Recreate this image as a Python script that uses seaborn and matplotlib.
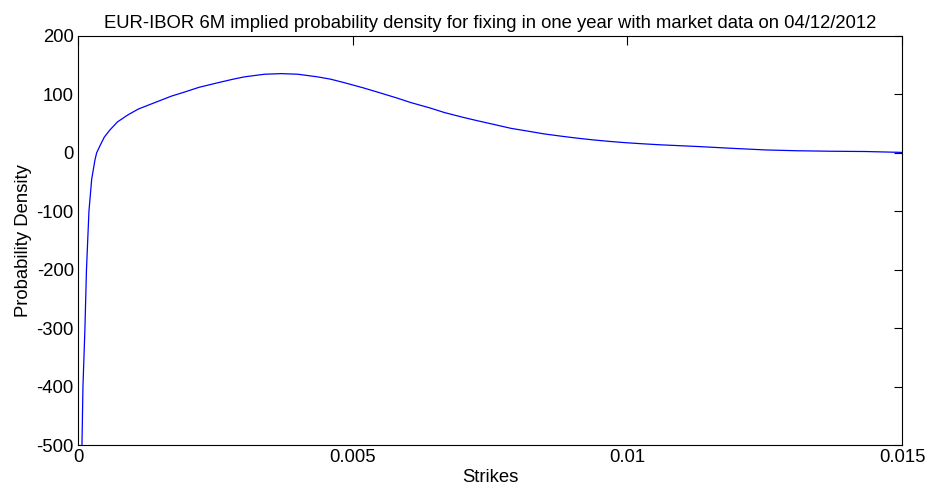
import matplotlib
matplotlib.use("Agg")
import matplotlib.pyplot as plt
import seaborn as sns
import pandas as pd

# Strike levels and the implied density along the curve
strikes = [0.00005, 0.000073, 0.000091, 0.000127, 0.000155, 0.000200, 0.00025,
           0.00031, 0.00034, 0.00040, 0.00048, 0.00058, 0.00072, 0.00091,
           0.0011, 0.0014, 0.0017, 0.00194, 0.0022, 0.00255, 0.0028, 0.00303,
           0.0034, 0.0037, 0.0040, 0.00436, 0.0046, 0.00485, 0.0052, 0.00545,
           0.0058, 0.00606, 0.0064, 0.00667, 0.0070, 0.00727, 0.0076, 0.00788,
           0.0082, 0.00848, 0.0088, 0.0091, 0.0094, 0.0097, 0.0100, 0.0103,
           0.0106, 0.0109, 0.0113, 0.0119, 0.01252, 0.0131, 0.0137, 0.01434,
           0.0150]
density = [-620, -500, -400, -300, -200, -100, -45,
           -12, 0, 12, 27, 39, 53, 65,
           75, 86, 97, 104, 112, 120, 125.5, 130,
           134.5, 135.5, 134.5, 130, 126, 120, 111, 104,
           94, 86, 77, 69, 61, 55, 48, 42,
           37, 32.5, 28.5, 25, 22, 19.4, 17.2, 15.4,
           13.8, 12.5, 10.8, 7.8, 5, 3.6, 2.8, 2.3,
           0.8]

x_ticks = [0, 0.005, 0.01, 0.015]
x_tick_labels = ["0", "0.005", "0.01", "0.015"]
y_ticks = [-500, -400, -300, -200, -100, 0, 100, 200]

title = "EUR-IBOR 6M implied probability density for fixing in one year with market data on 04/12/2012"

sns.set_style("white")
plt.rcParams["font.family"] = ["Liberation Sans", "DejaVu Sans"]
plt.rcParams["axes.unicode_minus"] = False
plt.rcParams["text.color"] = "black"
plt.rcParams["axes.labelcolor"] = "black"

FS = 13.3

df = pd.DataFrame({"Strikes": strikes, "Probability Density": density})

fig = plt.figure(figsize=(9.28, 4.92), dpi=100)
ax = fig.add_axes([0.084, 0.095, 0.888, 0.832])

sns.lineplot(data=df, x="Strikes", y="Probability Density", ax=ax,
             color="#0000ff", linewidth=0.9, sort=False)

ax.set_xlim(0, 0.015)
ax.set_ylim(-500, 200)
ax.set_xticks(x_ticks)
ax.set_xticklabels(x_tick_labels)
ax.set_yticks(y_ticks)

ax.tick_params(axis="x", direction="in", length=6.5, width=0.8, top=True,
               labelsize=FS, colors="black", pad=3)
ax.tick_params(axis="y", direction="in", length=5.8, width=0.8, right=True,
               labelsize=FS, colors="black", pad=3)
for side in ["left", "right", "top", "bottom"]:
    ax.spines[side].set_visible(True)
    ax.spines[side].set_color("black")
    ax.spines[side].set_linewidth(0.8)

ax.set_xlabel("Strikes", fontsize=FS, labelpad=2)
ax.set_ylabel("Probability Density", fontsize=FS, labelpad=3)
ax.set_title(title, fontsize=FS, pad=6)

fig.savefig("out.png", dpi=100, facecolor="white")
